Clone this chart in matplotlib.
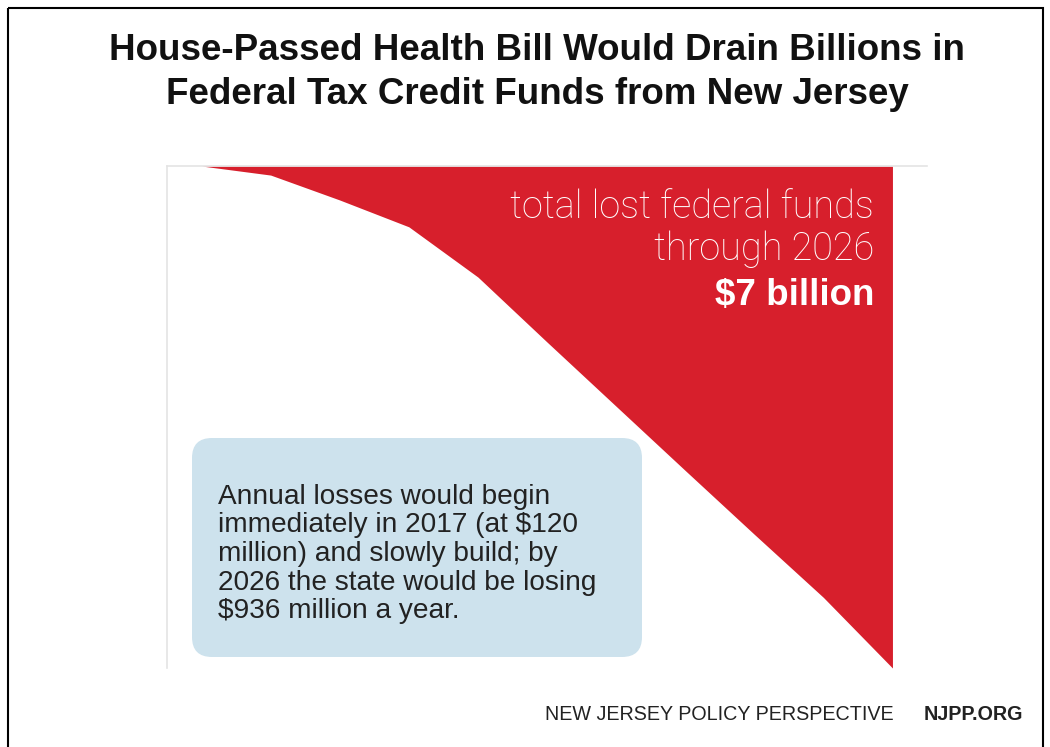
import matplotlib
matplotlib.use("Agg")
import matplotlib.pyplot as plt
from matplotlib.patches import FancyBboxPatch, Rectangle
import numpy as np

# ---- data (cumulative lost federal funds, $ millions) ----
years = [2016, 2017, 2018, 2019, 2020, 2021, 2022, 2023, 2024, 2025, 2026]
cumulative_loss = [0, 120, 450, 805, 1470, 2330, 3180, 4030, 4875, 5710, 6645]

title_lines = ["House-Passed Health Bill Would Drain Billions in",
               "Federal Tax Credit Funds from New Jersey"]
red_lines = ["total lost federal funds", "through 2026"]
red_bold = "$7 billion"
box_lines = ["Annual losses would begin",
             "immediately in 2017 (at $120",
             "million) and slowly build; by",
             "2026 the state would be losing",
             "$936 million a year."]
footer_left = "NEW JERSEY POLICY PERSPECTIVE"
footer_right = "NJPP.ORG"

RED = "#d71f2c"
BLUE = "#cde2ed"
W, H = 1050, 747

fig = plt.figure(figsize=(W / 100, H / 100), dpi=100)
fig.patch.set_facecolor("white")

# main chart axes
ax = fig.add_axes([167 / W, 1 - 668 / H, (927 - 167) / W, (668 - 166) / H])
vals = -np.array(cumulative_loss, dtype=float)
ax.fill_between(years, vals, 0, color=RED, linewidth=0)
ax.set_xlim(2015.5, 2026.5)
ax.set_ylim(vals.min(), 0)
ax.set_xticks([])
ax.set_yticks([])
for s in ["bottom", "right"]:
    ax.spines[s].set_visible(False)
for s in ["top", "left"]:
    ax.spines[s].set_color("#e4e4e4")
    ax.spines[s].set_linewidth(1.2)

# overlay in pixel coordinates
ov = fig.add_axes([0, 0, 1, 1])
ov.set_xlim(0, W)
ov.set_ylim(H, 0)
ov.axis("off")
ov.patch.set_alpha(0)

ov.add_patch(Rectangle((8, 8), 1035, 800, fill=False, edgecolor="black",
                       linewidth=1.5, clip_on=False))

sans = ["Liberation Sans", "DejaVu Sans"]
for i, line in enumerate(title_lines):
    ov.text(537, 50 + 45 * i, line, ha="center", va="center", fontsize=26.5,
            fontweight="bold", family=sans, color="#111111")

light = ["Roboto", "DejaVu Sans"]
ov.text(874, 218, red_lines[0], ha="right", va="baseline", fontsize=27.3,
        fontweight="light", family=light, color="white")
ov.text(874, 260, red_lines[1], ha="right", va="baseline", fontsize=27.3,
        fontweight="light", family=light, color="white")
ov.text(874, 305, red_bold, ha="right", va="baseline", fontsize=26.5,
        fontweight="bold", family=sans, color="white")

box = FancyBboxPatch((192 + 20, 438 + 20), 450 - 40, 219 - 40,
                     boxstyle="round,pad=20", facecolor=BLUE, edgecolor="none")
ov.add_patch(box)
for i, line in enumerate(box_lines):
    ov.text(218, 504 + 28.5 * i, line, ha="left", va="baseline", fontsize=20.2,
            family=sans, color="#222222")

ov.text(545, 714, footer_left, ha="left", va="center", fontsize=14.2,
        family=sans, color="#222222")
ov.text(1023, 714, footer_right, ha="right", va="center", fontsize=14.2,
        fontweight="bold", family=sans, color="#222222")

fig.savefig("out.png", dpi=100)
